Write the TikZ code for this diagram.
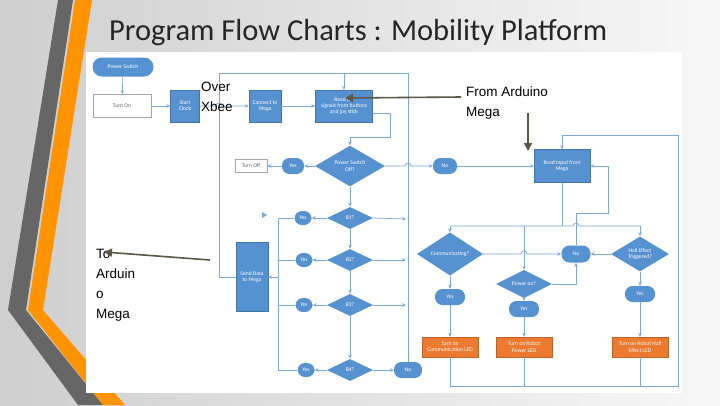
\documentclass[tikz,border=0pt]{standalone}
\usepackage{fontspec}
\setmainfont{Carlito}
\newfontfamily\arialf{Liberation Sans}
\usetikzlibrary{shapes.geometric,arrows.meta}
\definecolor{blu}{HTML}{5592CF}
\definecolor{org}{HTML}{EC7A30}
\definecolor{lc}{HTML}{7EA8D6}
\definecolor{ann}{HTML}{5C5646}
\begin{document}
\begin{tikzpicture}[x=1pt,y=-1pt,
 every node/.style={inner sep=0pt,font=\fontsize{5.6}{6.2}\selectfont,text=white,align=center},
 blk/.style={rectangle,fill=blu,draw=blu!80!black,line width=0.3pt},
 wbox/.style={rectangle,fill=white,draw=gray!70,text=gray!80!black,line width=0.5pt},
 obox/.style={rectangle,fill=org,draw=org!80!black,line width=0.3pt,minimum width=56pt,minimum height=20pt},
 pill/.style={rectangle,rounded corners=7.5pt,fill=blu,minimum width=26pt,minimum height=16pt},
 dia/.style={diamond,fill=blu,inner sep=0pt},
 ln/.style={draw=lc,line width=0.7pt},
 ar/.style={ln,-{Stealth[length=4pt,width=3.5pt]}},
 an/.style={draw=ann,line width=1.6pt,-{Triangle[length=8pt,width=8pt]}},
 lab/.style={text=black,font=\arialf\fontsize{13.5}{20}\selectfont,align=left}]
\useasboundingbox (0,0) rectangle (720,405);
\shade[left color=gray!38,right color=gray!6] (0,0) rectangle (720,405);
\fill[gray!80!black] (58,0)--(73,0)--(26,310)--(103,405)--(78,405)--(8,310)--cycle;
\fill[orange!85!yellow] (75,0)--(92,0)--(43,310)--(125,405)--(103,405)--(28,310)--cycle;
\node[anchor=west,text=black!85,font=\fontsize{30.5}{33}\selectfont] (title) at (109,33) {Program Flow Charts : Mobility Platform};
\fill[white] (86,52) rectangle (682,393);
% left chart
\node[pill,minimum width=61pt,minimum height=19pt,rounded corners=9.5pt] (ps) at (123,67) {Power Switch};
\node[wbox,minimum width=58pt,minimum height=23pt] (on) at (122,106) {Turn On};
\node[blk,minimum width=29pt,minimum height=32pt] (clk) at (185,106) {Start\\Clock};
\node[blk,minimum width=32pt,minimum height=32pt] (con) at (265,106) {Connect to\\Mega};
\node[blk,minimum width=57pt,minimum height=32pt] (rd) at (344,106) {Read for\\signals from buttons\\and joy stick};
\node[dia,minimum width=70pt,minimum height=26pt] (pso) at (350,166) {Power Switch\\Off?};
\node[pill,minimum width=22pt] (yo) at (293,166) {Yes};
\node[wbox,minimum width=32pt,minimum height=13pt] (off) at (251,166) {Turn Off};
\node[pill,minimum width=24pt] (no1) at (445,166) {No};
\node[dia,minimum width=46pt,minimum height=22pt] (b1) at (350,218) {B1?};
\node[dia,minimum width=46pt,minimum height=22pt] (b2) at (350,260) {B2?};
\node[dia,minimum width=46pt,minimum height=22pt] (b3) at (350,305) {B3?};
\node[dia,minimum width=46pt,minimum height=22pt] (b4) at (350,370) {B4?};
\node[pill,minimum width=17pt,minimum height=14pt] (y1) at (303,218) {Yes};
\node[pill,minimum width=17pt,minimum height=14pt] (y2) at (304,260) {Yes};
\node[pill,minimum width=17pt,minimum height=14pt] (y3) at (304,305) {Yes};
\node[pill,minimum width=17pt,minimum height=14pt] (y4) at (306,370) {Yes};
\node[pill,minimum width=28pt,minimum height=16pt] (n4) at (408,370) {No};
\node[blk,minimum width=32pt,minimum height=69pt] (sd) at (252,277) {Send Data\\to Mega};
% right chart
\node[blk,minimum width=56pt,minimum height=33pt] (ri) at (562,166) {Read Input from\\Mega};
\node[dia,minimum width=66pt,minimum height=22pt] (cm) at (450,254) {Communicating?};
\node[dia,minimum width=56pt,minimum height=16pt] (po) at (524,284) {Power on?};
\node[dia,minimum width=58pt,minimum height=32pt] (he) at (640,254) {Hall Effect\\Triggered?};
\node[pill,minimum width=29pt,minimum height=17pt,rounded corners=8pt] (nr) at (576,254) {No};
\node[pill,minimum width=30pt] (yc) at (450,297) {Yes};
\node[pill,minimum width=30pt] (yp) at (524,309) {Yes};
\node[pill,minimum width=30pt] (yh) at (640,294) {Yes};
\node[obox] (lc1) at (450,347) {Turn on\\Communication LED};
\node[obox] (lc2) at (524,347) {Turn on Robot\\Power LED};
\node[obox] (lc3) at (640,347) {Turn on Robot Hall\\Effect LED};
% left connectors
\draw[ar] (ps) -- (on);
\draw[ar] (on) -- (clk);
\draw[ar] (clk.east) -- (216,106) arc (180:360:3) -- (con.west);
\draw[ar] (con) -- (rd);
\draw[ar] (rd.east |- 0,113) -- (390,113) -- (390,137) -- (350,137) -- (pso.north);
\draw[ar] (pso) -- (yo);
\draw[ar] (yo) -- (off);
\draw[ar] (pso.east) -- (405,166) arc (180:360:3) -- (no1.west);
\draw[ar] (no1.east) -- (ri.west);
\draw[ar] (pso) -- (b1);
\draw[ar] (b1) -- (b2);
\draw[ar] (b2) -- (b3);
\draw[ar] (b3) -- (b4);
\foreach \b/\y in {b1/y1,b2/y2,b3/y3,b4/y4} \draw[ar] (\b) -- (\y);
\draw[ar] (b4) -- (n4);
\draw[ar] (b1.east) -- (406,219);
\draw[ar] (b2.east) -- (406,260);
\draw[ar] (b3.east) -- (406,305);
\draw[ln] (y1.west) -- (278,218) -- (278,370) -- (y4.west);
\draw[ln] (y2.west) -- (278,260);
\draw[ln] (y3.west) -- (278,305);
\coordinate (jn) at (278,277);
\draw[ar] (jn) -- (sd.east);
\draw[ln] (n4.north) -- (408,73) -- (219,73) -- (219,277) -- (sd.west);
\coordinate (tp) at (344,73);
\draw[ar] (tp) -- (rd.north);
\fill[lc] (262,212) -- (267,215) -- (262,218) -- cycle;
% right connectors
\coordinate (rj) at (562,226);
\draw[ln] (ri.south) -- (rj);
\draw[ln] (450,226) -- (573,226) arc (180:360:3) -- (640,226);
\draw[ar] (450,226) -- (cm.north);
\draw[ar] (524,226) -- (po.north);
\draw[ar] (640,226) -- (he.north);
\draw[ar] (cm.east) -- (521,254) arc (180:360:3) -- (nr.west);
\draw[ar] (he.west) -- (nr.east);
\draw[ar] (po.east) -- (576,284) -- (nr.south);
\draw[ar] (nr.north) -- (576,213) -- (608,213) -- (608,166) -- (ri.east);
\draw[ar] (cm) -- (yc); \draw[ar] (yc) -- (lc1);
\draw[ar] (po) -- (yp); \draw[ar] (yp) -- (lc2);
\draw[ar] (he) -- (yh); \draw[ar] (yh) -- (lc3);
\draw[ln] (lc1.south) -- (450,386) -- (678,386) -- (678,135) -- (562,135);
\draw[ln] (lc2.south) -- (524,386);
\draw[ln] (lc3.south) -- (640,386);
\coordinate (tr) at (562,135);
\draw[ar] (tr) -- (ri.north);
% annotations
\node[lab,anchor=north west] (ox) at (201,82) {Over\\Xbee};
\node[lab,anchor=north west] (fa) at (466,87) {From Arduino\\Mega};
\node[lab,anchor=north west] (ta) at (96,249) {To\\Arduin\\o\\Mega};
\coordinate (a1) at (461,97);
\coordinate (a2) at (528,113);
\coordinate (a3) at (210,260);
\draw[an] (a1) -- (345,98);
\draw[an] (a2) -- (528,151);
\draw[an] (a3) -- (104,252);
\end{tikzpicture}
\end{document}
